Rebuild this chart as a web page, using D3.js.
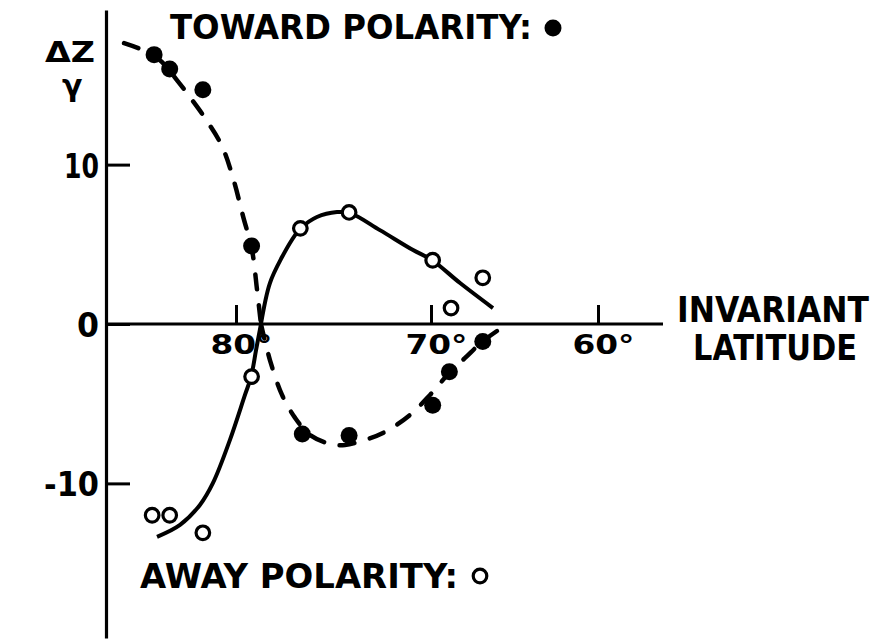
<!DOCTYPE html>
<html>
<head>
<meta charset="utf-8">
<script src="https://cdn.jsdelivr.net/npm/d3@7/dist/d3.min.js"></script>
<style>
  html, body { margin: 0; padding: 0; background: #fff; }
  svg { display: block; }
  text { font-family: "DejaVu Sans", sans-serif; fill: #000; }
</style>
</head>
<body>
<svg id="chart" width="877" height="641"></svg>
<script>
// ---- Data: ΔZ/γ versus invariant latitude (degrees) ----
// Toward-polarity sector (filled dots)
const towardLat = [84.2, 83.4, 81.7, 79.2, 76.6, 74.2, 69.9, 68.9, 66.9];
const towardDz  = [16.9, 16.0, 14.7, 4.9, -6.9, -7.0, -5.1, -3.0, -1.1];
// Away-polarity sector (open circles)
const awayLat = [84.3, 83.4, 81.7, 79.2, 76.7, 74.2, 69.9, 68.8, 66.9];
const awayDz  = [-12.0, -12.0, -13.1, -3.3, 6.0, 7.0, 4.0, 1.0, 2.9];

// Hand-fitted trend curves, split at the common zero crossing (~78.7°)
const towardFitPolarLat = [85.74, 84.77, 83.90, 83.03, 82.36, 81.59, 80.72, 80.15, 79.64, 79.18, 78.92, 78.72];
const towardFitPolarDz  = [17.62, 17.18, 16.55, 15.30, 14.23, 12.92, 11.16, 9.15, 6.77, 4.64, 2.13, 0];
const towardFitLowLat   = [78.72, 78.26, 77.64, 76.97, 76.21, 75.18, 74.41, 73.38, 72.36, 71.08, 70.05, 68.86, 67.96, 66.95, 66.05];
const towardFitLowDz    = [0, -2.26, -4.45, -5.89, -6.96, -7.52, -7.59, -7.27, -6.77, -5.71, -4.45, -3.01, -2.13, -1.13, -0.44];
const awayFitPolarLat   = [84.05, 82.87, 81.85, 81.18, 80.31, 79.54, 79.23, 78.97, 78.72];
const awayFitPolarDz    = [-13.35, -12.60, -11.35, -9.97, -7.27, -4.45, -3.32, -1.63, 0];
const awayFitLowLat     = [78.72, 78.26, 77.64, 76.97, 76.67, 75.85, 74.82, 74.15, 72.62, 70.92, 69.94, 68.26, 66.29];
const awayFitLowDz      = [0, 2.57, 4.20, 5.58, 6.02, 6.71, 7.02, 6.96, 5.89, 4.64, 4.01, 2.57, 1.00];

// Axis ticks
const latTicks = [80, 70, 60];
const dzTicks  = [10, 0, -10];

// ---- Layout ----
const svg = d3.select("#chart");
const W = 877, H = 641;
svg.append("rect").attr("width", W).attr("height", H).attr("fill", "#fff");

const yAxisX = 106;      // horizontal position of the ΔZ/γ axis
const xAxisRight = 663;  // right end of the latitude axis line

// Latitude runs right-to-left (decreasing); the drafted axis is not evenly spaced
const x = d3.scaleLinear().domain([80, 70, 60]).range([236, 431, 598]);
const y = d3.scaleLinear().domain([-19.7, 19.7]).range([638, 10]);

const ink = "#000";

function label(xp, yp, size, len, str, family) {
  const t = svg.append("text")
    .attr("x", xp).attr("y", yp)
    .style("font-size", size + "px")
    .style("font-weight", "bold")
    .attr("textLength", len)
    .attr("lengthAdjust", "spacingAndGlyphs")
    .text(str);
  if (family) t.style("font-family", family);
  return t;
}

// ---- Y axis ----
const yAxis = d3.axisLeft(y)
  .tickValues(dzTicks)
  .tickSizeInner(-24)
  .tickSizeOuter(0)
  .tickPadding(7)
  .tickFormat(d => d === 0 ? "0" : (d < 0 ? "-" + Math.abs(d) : String(d)));

const gy = svg.append("g").attr("transform", `translate(${yAxisX},0)`).call(yAxis);
gy.select(".domain").attr("stroke", ink).attr("stroke-width", 3.2);
gy.selectAll(".tick line").attr("stroke", ink).attr("stroke-width", 3);
const yLabelWidth = {"10": 35, "0": 22, "-10": 55};
gy.selectAll(".tick text")
  .attr("font-family", null)
  .attr("font-size", null)
  .style("font-size", "34px")
  .style("font-weight", "bold")
  .attr("fill", ink)
  .attr("dy", "0.37em")
  .attr("textLength", function () { return yLabelWidth[this.textContent]; })
  .attr("lengthAdjust", "spacingAndGlyphs");

// ---- X axis ----
svg.append("line")
  .attr("x1", yAxisX).attr("x2", xAxisRight)
  .attr("y1", y(0)).attr("y2", y(0))
  .attr("stroke", ink).attr("stroke-width", 3);

const xAxis = d3.axisBottom(x)
  .tickValues(latTicks)
  .tickSizeInner(-19)
  .tickSizeOuter(0)
  .tickPadding(11)
  .tickFormat(d => d + "°");

const gx = svg.append("g").attr("transform", `translate(0,${y(0)})`).call(xAxis);
gx.select(".domain").remove();
gx.selectAll(".tick line").attr("stroke", ink).attr("stroke-width", 3);
gx.selectAll(".tick text")
  .attr("font-family", null)
  .attr("font-size", null)
  .style("font-size", "27px")
  .style("font-weight", "bold")
  .attr("fill", ink)
  .attr("dx", 5)
  .attr("textLength", 62)
  .attr("lengthAdjust", "spacingAndGlyphs");

// Axis titles
label(677, 322, 35, 192, "INVARIANT", "'DejaVu Sans Condensed', 'DejaVu Sans', sans-serif");
label(693, 360, 35, 164, "LATITUDE", "'DejaVu Sans Condensed', 'DejaVu Sans', sans-serif");

label(45, 62, 29, 50, "ΔZ");
svg.append("text").attr("x", 62).attr("y", 96)
  .style("font-size", "30px").style("font-weight", "bold")
  .text("γ");

// ---- Fitted curves ----
const line = d3.line()
  .x(d => x(d[0]))
  .y(d => y(d[1]))
  .curve(d3.curveCatmullRom.alpha(0.5));

function drawFit(lats, vals, dashed) {
  svg.append("path")
    .datum(lats.map((l, i) => [l, vals[i]]))
    .attr("d", line)
    .attr("fill", "none")
    .attr("stroke", ink)
    .attr("stroke-width", dashed ? 4.5 : 4)
    .attr("stroke-linecap", dashed ? "round" : "butt")
    .attr("stroke-dasharray", dashed ? "15,16" : null);
}
drawFit(towardFitPolarLat, towardFitPolarDz, true);
drawFit(towardFitLowLat, towardFitLowDz, true);
drawFit(awayFitPolarLat, awayFitPolarDz, false);
drawFit(awayFitLowLat, awayFitLowDz, false);

// ---- Data points ----
svg.append("g").selectAll("circle")
  .data(towardLat.map((l, i) => [l, towardDz[i]]))
  .join("circle")
  .attr("cx", d => x(d[0])).attr("cy", d => y(d[1]))
  .attr("r", 8.5).attr("fill", ink);

svg.append("g").selectAll("circle")
  .data(awayLat.map((l, i) => [l, awayDz[i]]))
  .join("circle")
  .attr("cx", d => x(d[0])).attr("cy", d => y(d[1]))
  .attr("r", 6.8).attr("fill", "#fff").attr("stroke", ink).attr("stroke-width", 3.2);

// ---- Legend labels ----
label(170, 39, 33, 362, "TOWARD POLARITY:");
svg.append("circle").attr("cx", 553).attr("cy", 28).attr("r", 8.5).attr("fill", ink);

label(140, 588, 33, 318, "AWAY POLARITY:");
svg.append("circle").attr("cx", 480).attr("cy", 576).attr("r", 6.8)
  .attr("fill", "#fff").attr("stroke", ink).attr("stroke-width", 3.2);
</script>
</body>
</html>
